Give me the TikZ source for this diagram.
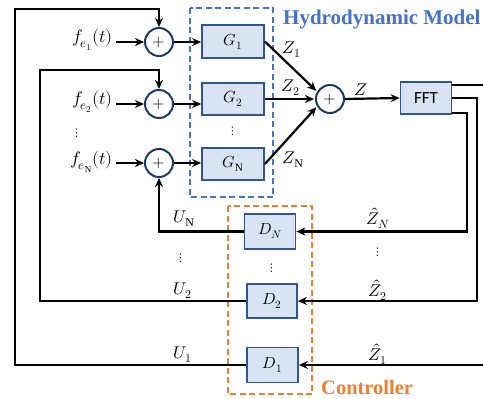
\documentclass[tikz,border=0pt]{standalone}
\usepackage{fontspec}
\usepackage{unicode-math}
\setmainfont{Liberation Serif}
\setmathfont{Latin Modern Math}
\newfontfamily\calib{Carlito}
\usetikzlibrary{arrows.meta}
\definecolor{boxfill}{RGB}{218,227,243}
\definecolor{boxdraw}{RGB}{47,85,151}
\definecolor{sumdraw}{RGB}{31,56,100}
\definecolor{hblue}{RGB}{68,114,196}
\definecolor{corange}{RGB}{237,125,49}
\begin{document}
\begin{tikzpicture}[x=1pt,y=-1pt,
  font=\fontsize{16}{18}\selectfont,
  blk/.style={draw=boxdraw, fill=boxfill, line width=1.8pt, inner sep=0pt},
  sumc/.style={circle, draw=sumdraw, line width=2pt, minimum size=28pt, inner sep=0pt},
  conn/.style={line width=2.2pt, -{Stealth[length=9pt,width=8pt]}},
  lbl/.style={inner sep=0pt, font=\fontsize{17}{19}\selectfont},
  flbl/.style={anchor=east, inner sep=3pt, font=\fontsize{18}{20}\selectfont},
  dts/.style={inner sep=0pt, font=\fontsize{13}{14}\selectfont},
  grp/.style={dashed, line width=2pt, dash pattern=on 6pt off 3.5pt}]
\useasboundingbox (0,0) rectangle (483,399);
\clip (0,0) rectangle (483,399);
% sums
\node[sumc] (s1) at (159,42) {$+$};
\node[sumc] (s2) at (159,104) {$+$};
\node[sumc] (s3) at (159,163) {$+$};
\node[sumc] (sz) at (330,99) {$+$};
% G blocks
\node[blk, minimum width=62pt, minimum height=33pt] (g1) at (233,41.5) {$G_1$};
\node[blk, minimum width=62pt, minimum height=32pt] (g2) at (233,99) {$G_2$};
\node[blk, minimum width=62pt, minimum height=32pt] (gN) at (233,164) {$G_{\mathrm{N}}$};
\node[dts] (gdots) at (233,131) {$\vdots$};
% FFT
\node[blk, minimum width=51pt, minimum height=32pt, font=\calib\fontsize{17}{19}\selectfont] (fft) at (426,98) {FFT};
% D blocks
\node[blk, minimum width=51pt, minimum height=35pt] (dN) at (270,231.5) {$D_N$};
\node[blk, minimum width=50pt, minimum height=34pt] (d2) at (272,301) {$D_2$};
\node[blk, minimum width=51pt, minimum height=35pt] (d1) at (272.5,365) {$D_1$};
\node[dts] (ddots) at (272,268) {$\vdots$};
% group boxes
\draw[grp, hblue] (190,8) rectangle (273,197);
\draw[grp, corange] (228,206) rectangle (312,394);
\node[anchor=west, inner sep=0pt, text=hblue, font=\bfseries\fontsize{21}{24}\selectfont] (hm) at (283,19) {Hydrodynamic Model};
\node[anchor=west, inner sep=0pt, text=corange, font=\bfseries\fontsize{20.5}{23}\selectfont] (ctl) at (321,387) {Controller};
% inputs
\node[flbl] (f1) at (116,40) {$f_{e_1}(t)$};
\node[flbl] (f2) at (116,102) {$f_{e_2}(t)$};
\node[flbl] (fN) at (116,162) {$f_{e_{\mathrm{N}}}(t)$};
\node[dts] (fdots) at (77,133) {$\vdots$};
\draw[conn] (f1.east |- s1.west) -- (s1.west);
\draw[conn] (f2.east |- s2.west) -- (s2.west);
\draw[conn] (fN.east |- s3.west) -- (s3.west);
% sums to G
\draw[conn] (s1.east) -- (g1.west |- s1.east);
\draw[conn] (s2.east) -- (g2.west |- s2.east);
\draw[conn] (s3.east) -- (gN.west |- s3.east);
% G to Z sum
\draw[conn, shorten >=1pt] (g1.east) -- (sz.150);
\draw[conn, shorten >=1pt] (g2.east) -- (sz.west);
\draw[conn, shorten >=1pt] (gN.east) -- (sz.210);
\node[lbl] (z1) at (292,50) {$Z_1$};
\node[lbl] (z2) at (291,88) {$Z_2$};
\node[lbl] (zN) at (293,160) {$Z_{\mathrm{N}}$};
\draw[conn] (sz.east) -- (fft.west);
\node[lbl] (zl) at (361,90) {$Z$};
% FFT outputs
\coordinate (fa) at (452,85);
\coordinate (fb) at (452,98);
\coordinate (fc) at (452,113);
\coordinate (va) at (488,200);
\coordinate (vb) at (477,200);
\coordinate (vc) at (467,200);
\draw[conn] (fa) -| (va) |- (d1.east);
\draw[conn] (fb) -| (vb) |- (d2.east);
\draw[conn] (fc) -| (vc) |- (dN.east);
\node[lbl] (zhN) at (378,218) {$\hat{Z}_N$};
\node[lbl] (zh2) at (378,290) {$\hat{Z}_2$};
\node[lbl] (zh1) at (378,354) {$\hat{Z}_1$};
\node[dts] (zhdots) at (378,252) {$\vdots$};
% feedback
\coordinate (o1) at (15,9);
\coordinate (o2) at (40,70);
\draw[conn] (d1.west) -| (o1) -| (s1.north);
\draw[conn] (d2.west) -| (o2) -| (s2.north);
\draw[conn] (dN.west) -| (s3.south);
\node[lbl] (uN) at (184,219) {$U_{\mathrm{N}}$};
\node[lbl] (u2) at (183,291) {$U_2$};
\node[lbl] (u1) at (183,355) {$U_1$};
\node[dts] (udots) at (181,258) {$\vdots$};
\end{tikzpicture}
\end{document}
